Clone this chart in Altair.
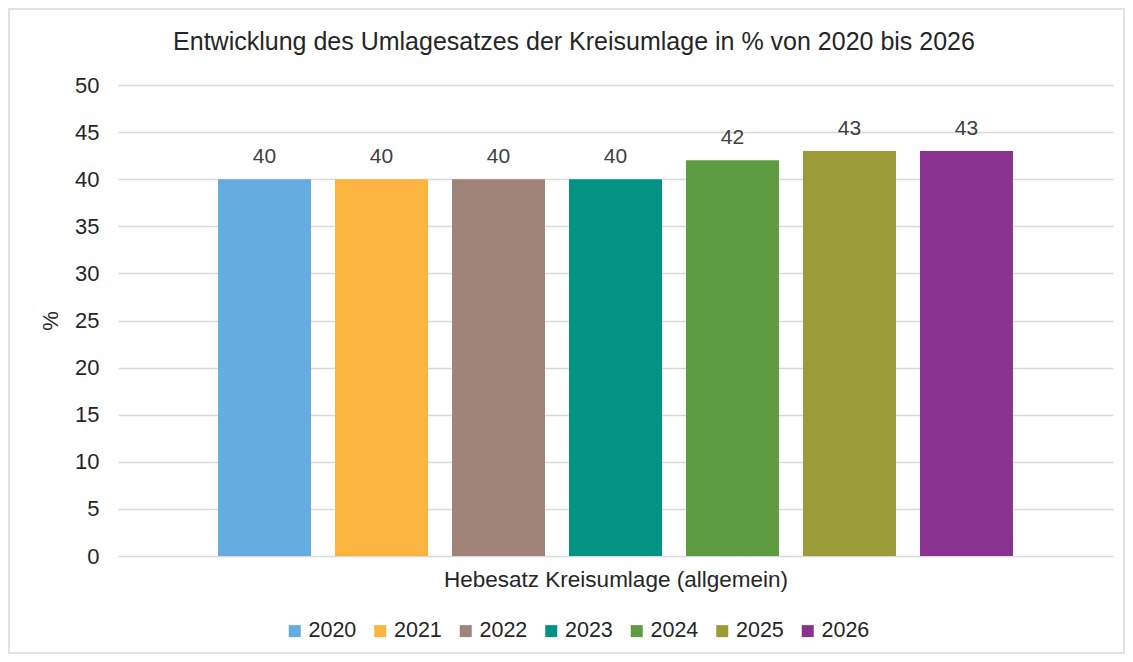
import altair as alt
import pandas as pd

jahre = ["2020", "2021", "2022", "2023", "2024", "2025", "2026"]
werte = [40, 40, 40, 40, 42, 43, 43]
farben = ["#65ADE0", "#FCB440", "#A0847A", "#039383", "#5E9C42", "#9B9C38", "#8A328F"]
kategorie = "Hebesatz Kreisumlage (allgemein)"
titel = "Entwicklung des Umlagesatzes der Kreisumlage in % von 2020 bis 2026"

df = pd.DataFrame({"Jahr": jahre, "Wert": werte})

FONT = "Liberation Sans"
TXT = "#262626"
W, H = 995, 471
PL, PT, PR, PB = 110, 77, 12, 98

x = alt.X("Jahr:N",
          scale=alt.Scale(paddingInner=0.205, paddingOuter=0.855),
          axis=alt.Axis(labels=False, ticks=False, domain=False, grid=False,
                        title=kategorie, titleFontSize=22.5, titleFontWeight="normal",
                        titleFont=FONT, titleColor=TXT, titlePadding=12))
y = alt.Y("Wert:Q",
          scale=alt.Scale(domain=[0, 50], nice=False),
          axis=alt.Axis(values=list(range(0, 51, 5)), title="%", ticks=False, domain=False,
                        grid=True, gridColor="#d9d9d9", gridWidth=1.3,
                        labelFontSize=22, labelFont=FONT, labelColor=TXT, labelPadding=19,
                        titleFontSize=22, titleFont=FONT, titleFontWeight="normal",
                        titleColor=TXT, titlePadding=12))

color = alt.Color("Jahr:N",
                  scale=alt.Scale(domain=jahre, range=farben),
                  legend=alt.Legend(title=None, orient="none", legendX=166, legendY=535,
                                    direction="horizontal", columns=7,
                                    symbolType="square", symbolSize=144, symbolStrokeWidth=0,
                                    symbolOpacity=1,
                                    labelFontSize=21.5, labelFont=FONT, labelColor=TXT,
                                    labelOffset=3, columnPadding=12.5))

bars = alt.Chart(df).mark_bar(opacity=1).encode(x=x, y=y, color=color)
labels = alt.Chart(df).mark_text(baseline="middle", dy=-22, fontSize=21, font=FONT,
                                 color="#404040").encode(x="Jahr:N", y="Wert:Q", text="Wert:Q")

one = pd.DataFrame({"a": [0]})
frame = alt.Chart(one).mark_rect(
    fillOpacity=0, stroke="#d9d9d9", strokeWidth=1.5).encode(
    x=alt.value(-PL + 1), x2=alt.value(W + PR - 1),
    y=alt.value(-PT + 1), y2=alt.value(H + PB - 1))

title = alt.Chart(one).mark_text(
    fontSize=25, font=FONT, color=TXT, align="center", baseline="middle").encode(
    x=alt.value(456), y=alt.value(-43), text=alt.value(titel))

chart = alt.layer(frame, bars, labels, title).properties(
    width=W, height=H,
    padding={"left": PL, "top": PT, "right": PR, "bottom": PB},
    autosize=alt.AutoSizeParams(type="none"),
).configure_view(stroke=None)

chart.save("out.html", embed_options={"renderer": "svg", "actions": False})
